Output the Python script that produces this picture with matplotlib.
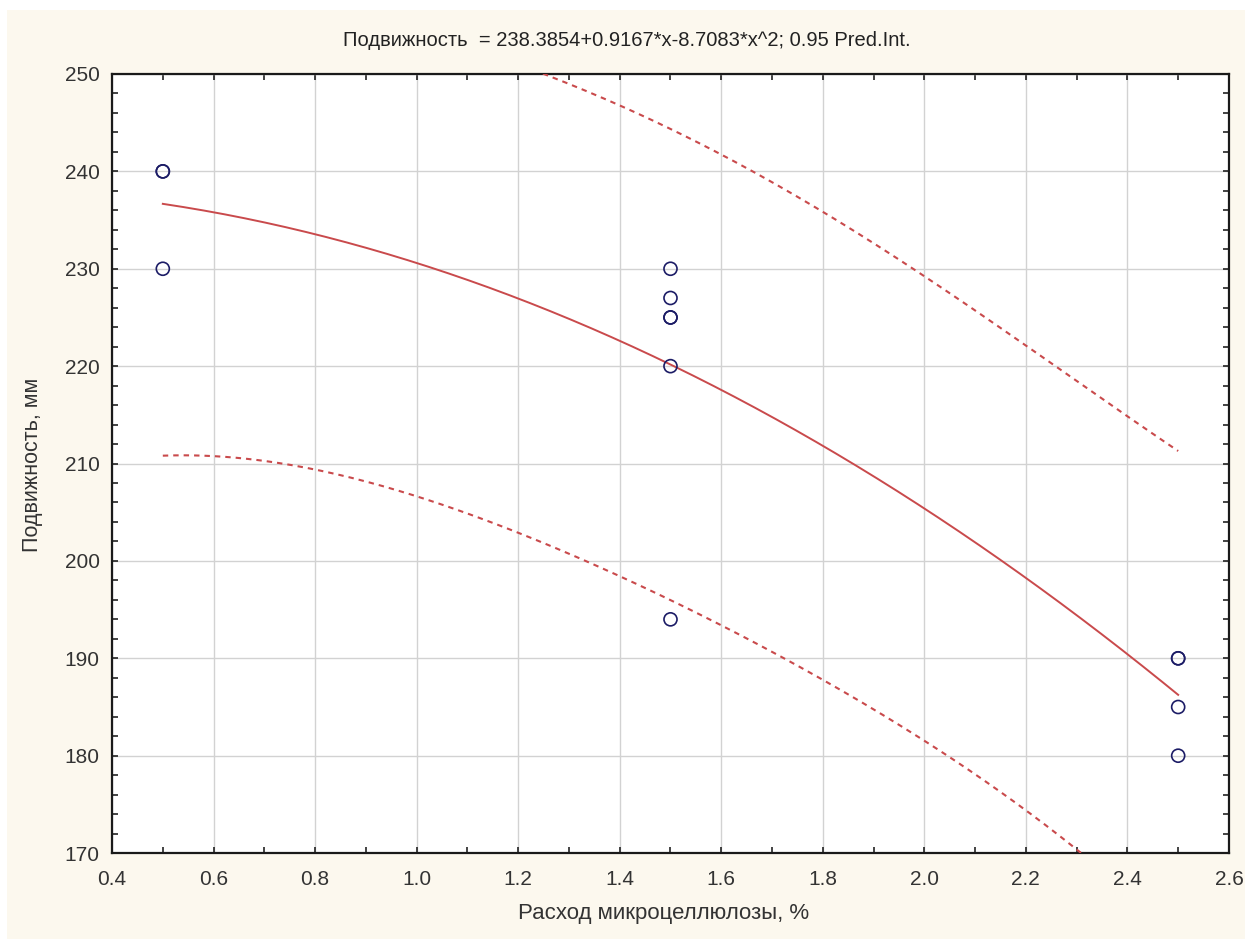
import numpy as np
import matplotlib
matplotlib.use("Agg")
import matplotlib.pyplot as plt
from matplotlib.ticker import MultipleLocator, FormatStrFormatter
from matplotlib.patches import Rectangle

# Observations: microcellulose dosage (%) and mobility (mm)
dosage = [0.5, 0.5, 0.5,
          1.5, 1.5, 1.5, 1.5, 1.5, 1.5,
          2.5, 2.5, 2.5, 2.5]
mobility = [240, 240, 230,
            230, 227, 225, 225, 220, 194,
            190, 190, 185, 180]

# Quadratic model coefficients: y = c0 + c1*x + c2*x^2
coef = [238.3854, 0.9167, -8.7083]
t_crit = 2.2281  # Student t, 0.975 quantile, 10 df

x_obs = np.array(dosage, dtype=float)
y_obs = np.array(mobility, dtype=float)

# Design matrix and residual variance for the prediction band
X = np.column_stack([np.ones_like(x_obs), x_obs, x_obs ** 2])
beta = np.array(coef)
resid = y_obs - X @ beta
dof = len(y_obs) - X.shape[1]
s2 = resid @ resid / dof
XtX_inv = np.linalg.inv(X.T @ X)

xs = np.linspace(min(dosage), max(dosage), 200)
Xs = np.column_stack([np.ones_like(xs), xs, xs ** 2])
fit = Xs @ beta
lev = np.einsum("ij,jk,ik->i", Xs, XtX_inv, Xs)
half = t_crit * np.sqrt(s2 * (1 + lev))

plt.rcParams["font.family"] = ["Liberation Sans", "DejaVu Sans"]

fig = plt.figure(figsize=(12.45, 9.39), dpi=100, facecolor="#fcf8ee")
# thin white margin along the top and left edges
fig.patches.append(Rectangle((0, 0.989), 1, 0.011, transform=fig.transFigure,
                             facecolor="white", edgecolor="none", zorder=0))
fig.patches.append(Rectangle((0, 0), 0.006, 1, transform=fig.transFigure,
                             facecolor="white", edgecolor="none", zorder=0))

ax = fig.add_axes([0.0900, 0.0915, 0.8971, 0.8297])
ax.set_facecolor("white")

line_col = "#c94a4c"
ax.plot(xs, fit, color=line_col, lw=1.4, zorder=3)
ax.plot(xs, fit + half, color=line_col, lw=1.5, ls=(0, (2.6, 2.4)), zorder=3)
ax.plot(xs, fit - half, color=line_col, lw=1.5, ls=(0, (2.6, 2.4)), zorder=3)
ax.scatter(dosage, mobility, s=88, facecolors="none", edgecolors="#1c1c66",
           linewidths=1.2, zorder=4)

ax.set_xlim(0.4, 2.6)
ax.set_ylim(170, 250)
ax.xaxis.set_major_locator(MultipleLocator(0.2))
ax.xaxis.set_minor_locator(MultipleLocator(0.1))
ax.yaxis.set_major_locator(MultipleLocator(10))
ax.yaxis.set_minor_locator(MultipleLocator(2))
ax.xaxis.set_major_formatter(FormatStrFormatter("%.1f"))

ax.grid(True, which="major", color="#d2d2d2", lw=1.0)
ax.set_axisbelow(True)
ax.tick_params(which="both", direction="in", top=True, right=True,
               length=4, width=1.2, color="#222222", labelsize=15,
               labelcolor="#333333")
ax.tick_params(axis="x", pad=12)
ax.tick_params(axis="y", pad=9)
for sp in ax.spines.values():
    sp.set_linewidth(1.6)
    sp.set_color("#1a1a1a")

fig.text(627 / 1245, 1 - 40 / 939,
         "Подвижность  = 238.3854+0.9167*x-8.7083*x^2; 0.95 Pred.Int.",
         ha="center", va="center", fontsize=14.5, color="#222222")
fig.text(664 / 1245, 1 - 914 / 939, "Расход микроцеллюлозы, %", ha="center",
         va="center", fontsize=16, color="#333333")
fig.text(33 / 1245, 1 - 465 / 939, "Подвижность, мм", ha="center", va="center",
         rotation=90, fontsize=15.5, color="#333333")

fig.savefig("out.png", dpi=100, facecolor=fig.get_facecolor())
